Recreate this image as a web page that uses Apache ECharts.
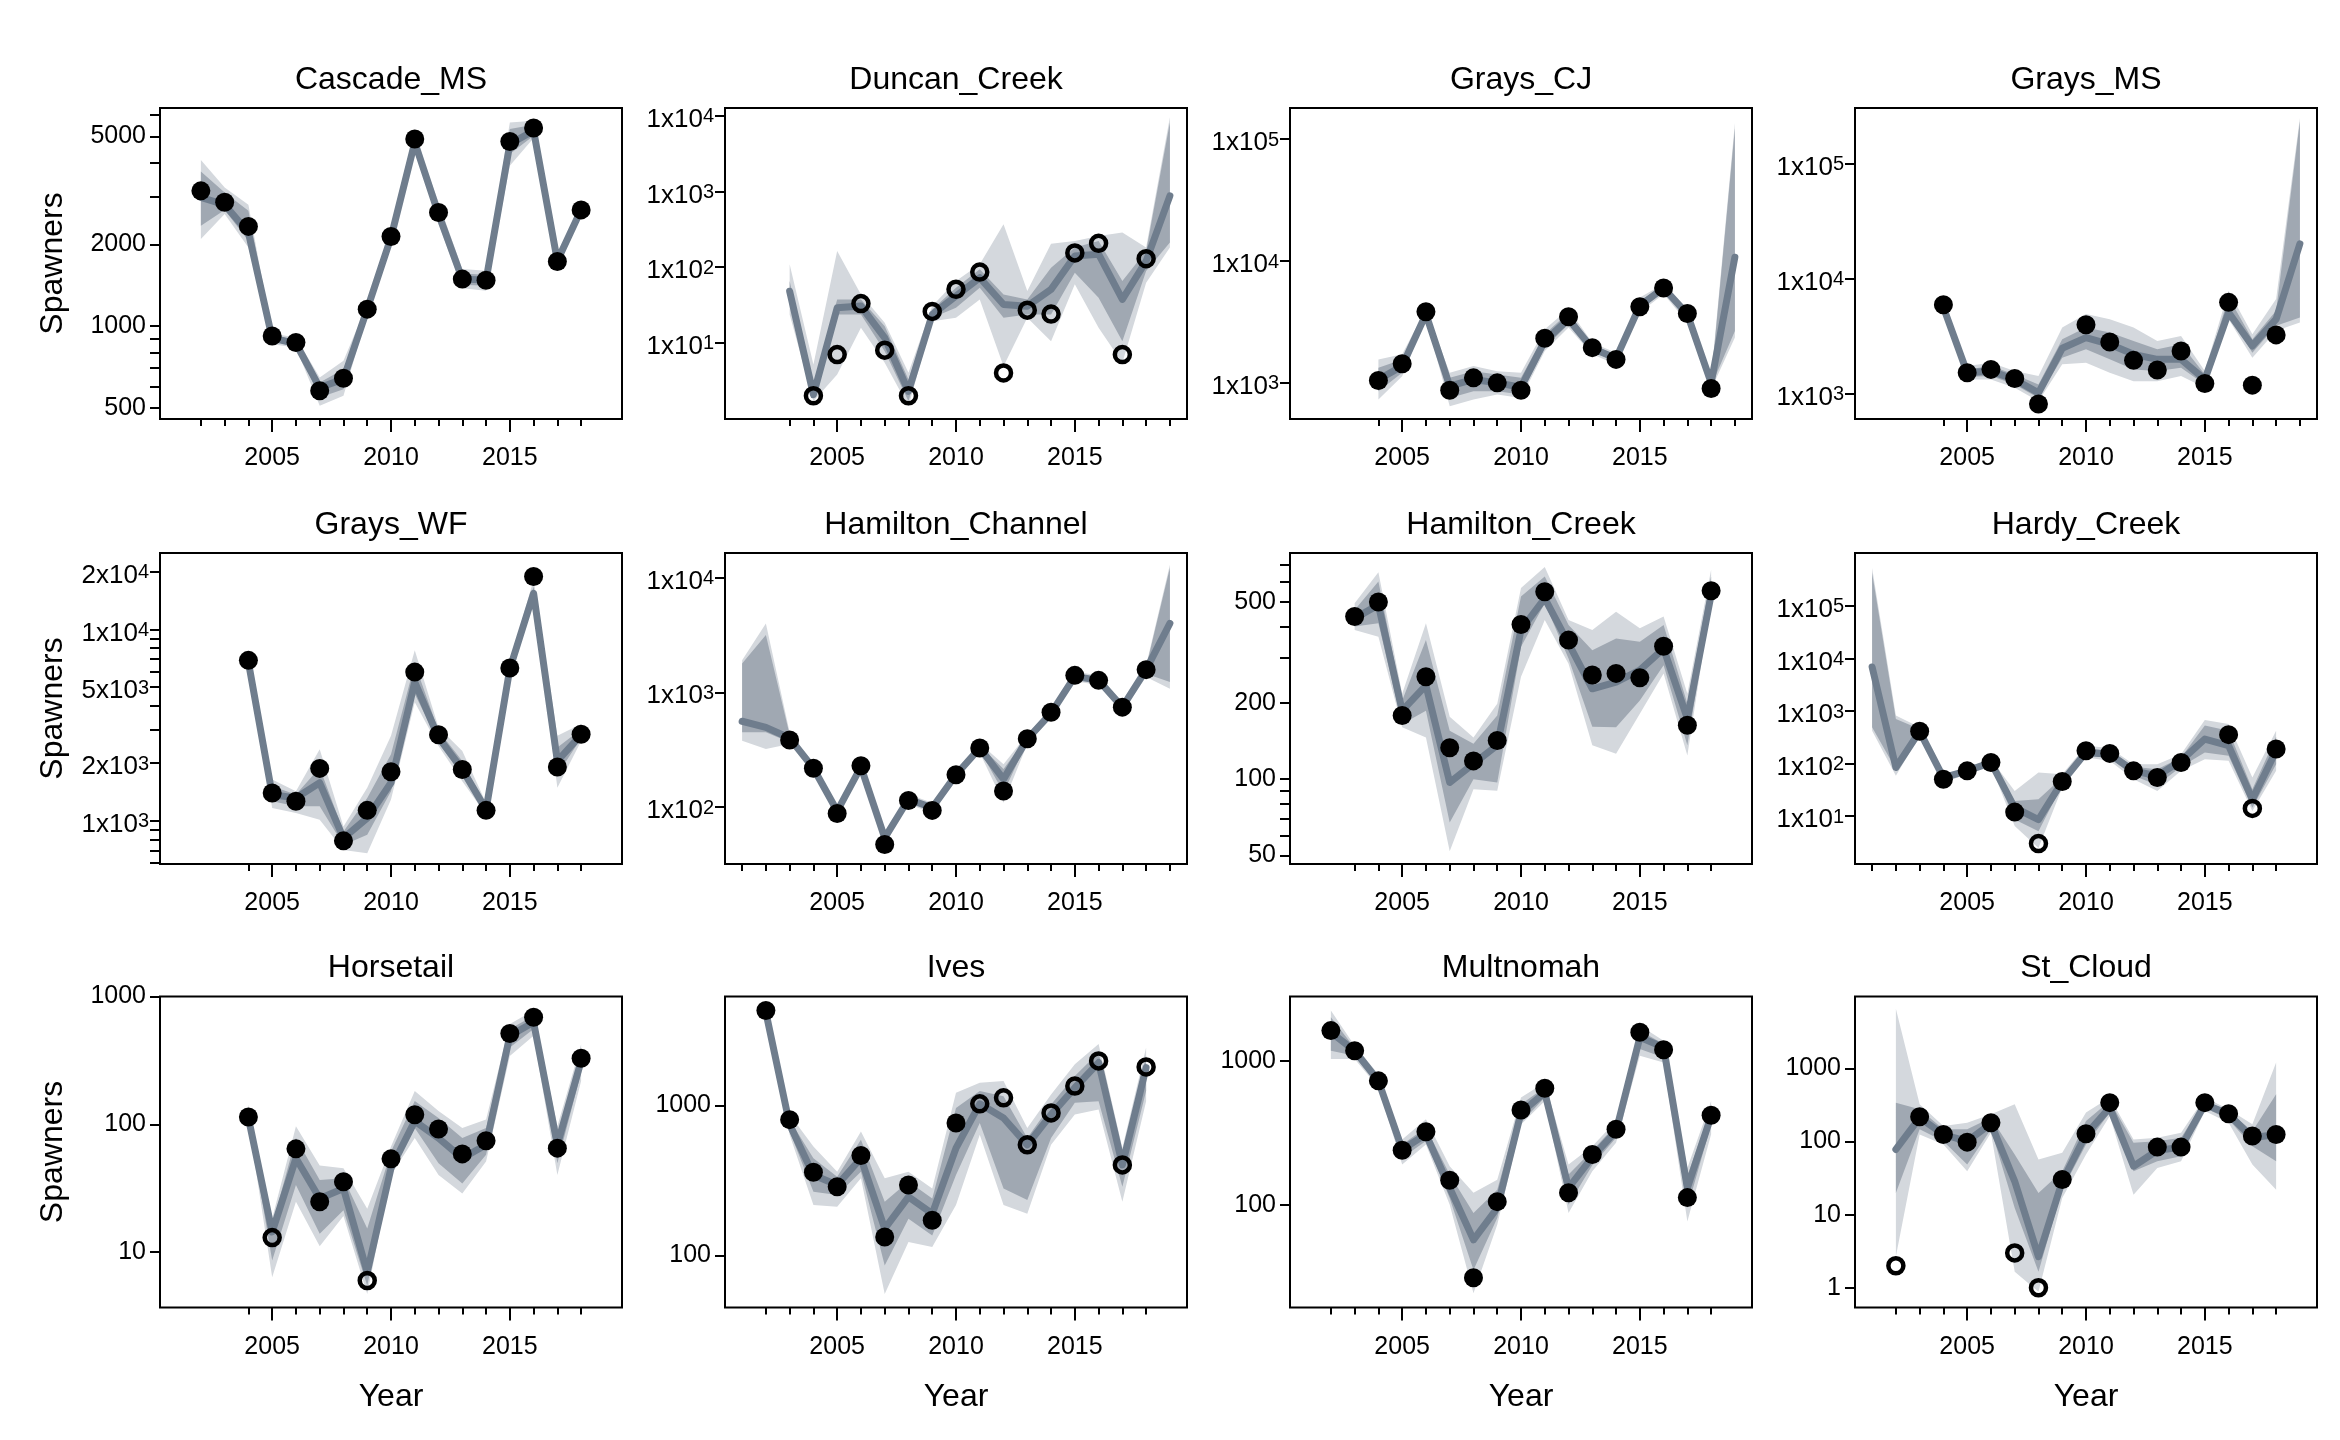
<!DOCTYPE html>
<html>
<head>
<meta charset="utf-8">
<script src="https://cdn.jsdelivr.net/npm/echarts@6/dist/echarts.min.js"></script>
<style>html,body{margin:0;padding:0;background:#fff}#c{width:2340px;height:1440px}</style>
</head>
<body>
<div id="c"></div>
<script>
// ---------------- DATA ----------------
const panelNames = ['Cascade_MS','Duncan_Creek','Grays_CJ','Grays_MS','Grays_WF','Hamilton_Channel','Hamilton_Creek','Hardy_Creek','Horsetail','Ives','Multnomah','St_Cloud'];
const xMajorTicks = [2005, 2010, 2015];

// Cascade_MS
const cas_years = [2002,2003,2004,2005,2006,2007,2008,2009,2010,2011,2012,2013,2014,2015,2016,2017,2018];
const cas_med  = [2980,2800,2214,903,863,594,638,1155,2122,4752,2587,1490,1478,4685,5247,1741,2684];
const cas_lo95 = [2092,2587,1950,858,834,509,554,1107,2034,4555,2376,1380,1350,3898,4931,1669,2602];
const cas_lo50 = [2343,2676,2063,878,846,546,586,1132,2075,4646,2479,1420,1408,4304,5029,1707,2639];
const cas_hi50 = [3715,3109,2661,929,888,620,694,1178,2170,4889,2737,1564,1546,5321,5521,1771,2730];
const cas_hi95 = [4090,3243,2800,940,908,647,745,1205,2214,4987,2857,1622,1599,5630,5711,1801,2768];
const cas_obsYears = [2002,2003,2004,2005,2006,2007,2008,2009,2010,2011,2012,2013,2014,2015,2016,2017,2018];
const cas_obs  = [3150,2860,2330,920,870,578,643,1155,2140,4890,2620,1490,1475,4790,5370,1730,2680];
const cas_open = [0,0,0,0,0,0,0,0,0,0,0,0,0,0,0,0,0];
const cas_yRange = [455, 6360];
const cas_yLabels = [500,1000,2000,5000];
const cas_yTicks = [500,600,700,800,900,1000,2000,3000,4000,5000,6000];

// Duncan_Creek
const dun_years = [2003,2004,2005,2006,2007,2008,2009,2010,2011,2012,2013,2014,2015,2016,2017,2018,2019];
const dun_med  = [48,2.07,29,30.6,11.6,2.29,23.7,41.5,72.4,32.1,30.5,50.8,140,148,37.4,120,873];
const dun_lo95 = [23.7,1.69,3.81,15.8,5.44,1.45,19.3,21.4,37.4,4.91,21.4,10.5,59.2,15.8,5.44,62.2,181];
const dun_lo50 = [32.2,1.87,23.7,23.7,7.76,1.69,21.4,29.1,53.4,21.4,23.7,23.7,84.4,39.4,10.5,88.8,211];
const dun_hi50 = [65.5,2.81,37.4,37.4,16.6,3.27,27.6,53.4,93.4,43.6,37.4,98.3,181,221,65.5,163,8150];
const dun_hi95 = [109,5.17,163,43.6,18.4,4.01,30.6,65.5,109,368,48.3,204,221,258,286,181,9495];
const dun_obsYears = [2004,2005,2006,2007,2008,2009,2010,2011,2012,2013,2014,2015,2016,2017,2018];
const dun_obs  = [2,7,33,8,2,26,51,86,4,27,24,154,206,7,129];
const dun_open = [1,1,1,1,1,1,1,1,1,1,1,1,1,1,1];
const dun_yRange = [0.986, 12620];
const dun_yLabels = [10,100,1000,10000];
const dun_yTicks = [10,100,1000,10000];

// Grays_CJ
const gcj_years = [2004,2005,2006,2007,2008,2009,2010,2011,2012,2013,2014,2015,2016,2017,2018,2019];
const gcj_med  = [1066,1373,3664,939,1066,1000,921,2208,3332,1920,1588,4292,6004,3664,1000,10750];
const gcj_lo95 = [729,1135,3440,642,729,801,752,1825,2844,1713,1417,3782,5358,3128,881,2352];
const gcj_lo50 = [854,1209,3550,752,854,854,801,1945,3030,1802,1491,4030,5637,3332,939,2669];
const gcj_hi50 = [1330,1558,3904,1100,1248,1172,1100,2505,3782,2046,1692,4721,6277,3855,1045,123200];
const gcj_hi95 = [1558,1713,4030,1209,1373,1248,1209,2755,4030,2138,1768,5029,6479,4030,1100,135600];
const gcj_obsYears = [2004,2005,2006,2007,2008,2009,2010,2011,2012,2013,2014,2015,2016,2017,2018];
const gcj_obs  = [1046,1435,3829,870,1099,1000,870,2323,3484,1945,1558,4212,6004,3711,898];
const gcj_open = [0,0,0,0,0,0,0,0,0,0,0,0,0,0,0];
const gcj_yRange = [505, 180300];
const gcj_yLabels = [1000,10000,100000];
const gcj_yTicks = [1000,10000,100000];

// Grays_MS
const gms_years = [2004,2005,2006,2007,2008,2009,2010,2011,2012,2013,2014,2015,2016,2017,2018,2019];
const gms_med  = [5628,1517,1569,1326,1013,2478,3073,2687,2196,1985,1985,1326,5088,2598,4446,20180];
const gms_lo95 = [5262,1326,1326,1121,857,1795,1856,1517,1282,1282,1418,1121,4448,2053,3516,4159];
const gms_lo50 = [5442,1390,1418,1199,916,2053,2429,1985,1623,1569,1678,1199,4920,2271,3889,4600];
const gms_hi50 = [6100,1623,1735,1467,1199,2972,3761,3399,2873,2429,2687,1467,6887,2972,5262,234800];
const gms_hi95 = [6437,1735,1856,1569,1418,3761,4920,4448,3761,2873,3178,1569,7878,3287,6658,251200];
const gms_obsYears = [2004,2005,2006,2007,2008,2010,2011,2012,2013,2014,2015,2016,2017,2018];
const gms_obs  = [5938,1517,1623,1353,812,3968,2815,1945,1601,2349,1223,6226,1183,3243];
const gms_open = [0,0,0,0,0,0,0,0,0,0,0,0,0,0];
const gms_yRange = [600, 307300];
const gms_yLabels = [1000,10000,100000];
const gms_yTicks = [1000,10000,100000];

// Grays_WF
const gwf_years = [2004,2005,2006,2007,2008,2009,2010,2011,2012,2013,2014,2015,2016,2017,2018];
const gwf_med  = [6757,1370,1316,1579,811,1033,1579,5304,2724,1855,1143,6232,15470,2053,2813];
const gwf_lo95 = [6623,1166,1097,1012,704,676,1290,4163,2461,1611,1075,5748,13700,1486,2615];
const gwf_lo50 = [6676,1264,1190,1190,747,844,1427,4604,2563,1711,1097,5987,14560,1746,2702];
const gwf_hi50 = [6896,1516,1370,1893,879,1316,2225,6623,2953,2053,1190,6491,16770,2412,3012];
const gwf_hi95 = [7037,1643,1427,2364,934,1486,2779,7784,3074,2317,1239,6757,18180,2779,3201];
const gwf_obsYears = [2004,2005,2006,2007,2008,2009,2010,2011,2012,2013,2014,2015,2016,2017,2018];
const gwf_obs  = [6896,1398,1264,1878,785,1133,1804,5987,2813,1855,1133,6284,18930,1909,2836];
const gwf_open = [0,0,0,0,0,0,0,0,0,0,0,0,0,0,0];
const gwf_yRange = [594, 25120];
const gwf_yLabels = [1000,2000,5000,10000,20000];
const gwf_yTicks = [600,700,800,900,1000,2000,3000,4000,5000,6000,7000,8000,9000,10000,20000];

// Hamilton_Channel
const hch_years = [2001,2002,2003,2004,2005,2006,2007,2008,2009,2010,2011,2012,2013,2014,2015,2016,2017,2018,2019];
const hch_med  = [559,495,399,218,92.3,224,53.9,117,98.7,191,327,175,391,657,1376,1270,742,1574,3981];
const hch_lo95 = [378,320,354,198,83,203,48,106,89,173,297,109,355,597,1250,1155,674,1357,1073];
const hch_lo50 = [448,448,366,208,88,213,51,111,94,182,312,134,373,627,1312,1210,708,1452,1227];
const hch_hi50 = [1777,3147,427,229,97,235,57,123,104,200,343,214,410,690,1444,1333,779,1661,12070];
const hch_hi95 = [1900,3981,448,240,102,247,60,129,109,210,360,236,430,723,1514,1397,816,1718,12910];
const hch_obsYears = [2003,2004,2005,2006,2007,2008,2009,2010,2011,2012,2013,2014,2015,2016,2017,2018];
const hch_obs  = [384,218,88,229,47.1,114,93.5,191,327,138,394,670,1404,1270,742,1574];
const hch_open = [0,0,0,0,0,0,0,0,0,0,0,0,0,0,0,0];
const hch_yRange = [31.9, 16340];
const hch_yLabels = [100,1000,10000];
const hch_yTicks = [100,1000,10000];

// Hamilton_Creek
const hcr_years = [2003,2004,2005,2006,2007,2008,2009,2010,2011,2012,2013,2014,2015,2016,2017,2018];
const hcr_med  = [430,486,186,234,97,115,136,387,516,343,227,241,269,327,173,532];
const hcr_lo95 = [387,364,160,146,52,91.3,89.9,253,424,285,136,126,181,261,124,508];
const hcr_lo50 = [399,411,165,186,67.4,100,97,332,493,299,161,160,204,281,136,516];
const hcr_hi50 = [464,601,204,353,155,138,178,524,629,405,322,358,348,405,198,629];
const hcr_hi95 = [493,653,217,411,176,146,198,566,685,424,387,457,393,437,217,669];
const hcr_obsYears = [2003,2004,2005,2006,2007,2008,2009,2010,2011,2012,2013,2014,2015,2016,2017,2018];
const hcr_obs  = [437,499,178,253,133,118,142,407,547,353,257,261,251,334,163,552];
const hcr_open = [0,0,0,0,0,0,0,0,0,0,0,0,0,0,0,0];
const hcr_yRange = [46.3, 778];
const hcr_yLabels = [50,100,200,500];
const hcr_yTicks = [50,60,70,80,90,100,200,300,400,500,600,700];

// Hardy_Creek
const hdy_years = [2001,2002,2003,2004,2005,2006,2007,2008,2009,2010,2011,2012,2013,2014,2015,2016,2017,2018];
const hdy_med  = [6900,84,411,54,72.6,105,14.4,8.6,45.4,163,151,72.6,58.3,113,293,219,20.8,175];
const hdy_lo95 = [423,58.3,340,43.4,62.7,90.5,6.44,2.48,34.9,131,113,50.3,30.1,72.6,121,113,12.5,72.6];
const hdy_lo50 = [490,78.2,366,46.8,66.5,97.4,8.63,5.16,39.2,141,127,58.3,39.2,86.7,163,141,14.4,97.4];
const hdy_hi50 = [422000,708,456,58.3,78.2,113,19.4,20.8,54.2,197,175,86.7,78.2,131,528,423,32.4,325];
const hdy_hi95 = [526000,820,490,62.7,84.1,121,30.1,67.5,62.7,219,197,97.4,97.4,151,678,568,54.2,423];
const hdy_obsYears = [2003,2004,2005,2006,2007,2008,2009,2010,2011,2012,2013,2014,2016,2017,2018];
const hdy_obs  = [411,50.3,72.6,105,11.9,3,45.4,175,156,72.6,54.2,105,355,14,189];
const hdy_open = [0,0,0,0,0,1,0,0,0,0,0,0,0,1,0];
const hdy_yRange = [1.224, 1018000];
const hdy_yLabels = [10,100,1000,10000,100000];
const hdy_yTicks = [10,100,1000,10000,100000];

// Horsetail
const hor_years = [2004,2005,2006,2007,2008,2009,2010,2011,2012,2013,2014,2015,2016,2017,2018];
const hor_med  = [112,14.4,54.3,26.3,31.5,6.96,45.3,106,78.1,54.3,69.2,493,628,69.2,313];
const hor_lo95 = [106,6.36,24.8,11.1,19.2,4.70,40.2,78.1,40.2,28.8,51.1,343,493,40.2,218];
const hor_lo50 = [109,8.60,33.5,13.9,21.3,5.46,42.6,93.6,49.6,34.5,57.7,399,556,49.6,254];
const hor_hi50 = [127,16.2,78.1,36.7,37.8,15.3,61.3,152,112,78.1,93.6,556,708,82.9,365];
const hor_hi95 = [143,18.3,96.4,47.6,45.3,21.9,67.1,182,127,93.6,109,609,776,96.4,424];
const hor_obsYears = [2004,2005,2006,2007,2008,2009,2010,2011,2012,2013,2014,2015,2016,2017,2018];
const hor_obs  = [114,13,64.3,24.8,35.6,6,53.7,119,91.9,58.7,74.3,514,688,65.1,329];
const hor_open = [0,1,0,0,0,1,0,0,0,0,0,0,0,0,0];
const hor_yRange = [3.69, 1000];
const hor_yLabels = [10,100,1000];
const hor_yTicks = [10,100,1000];

// Ives
const ive_years = [2002,2003,2004,2005,2006,2007,2008,2009,2010,2011,2012,2013,2014,2015,2016,2017,2018];
const ive_med  = [4187,746,344,295,445,151,246,190,520,1026,826,547,870,1314,1934,402,1789];
const ive_lo95 = [3978,639,217,211,327,55.3,123,114,217,639,217,190,547,870,940,228,1069];
const ive_lo50 = [4081,672,266,253,362,85.7,176,136,344,765,280,234,607,1042,1069,287,1248];
const ive_hi50 = [4297,805,445,335,591,228,311,240,964,1248,1155,607,1016,1574,2256,469,2144];
const ive_hi95 = [4409,870,533,362,672,327,362,280,1216,1420,1456,708,1185,1885,2567,520,2438];
const ive_obsYears = [2002,2003,2004,2005,2006,2007,2008,2009,2010,2011,2012,2013,2014,2015,2016,2017,2018];
const ive_obs  = [4297,805,359,287,464,133,295,172,765,1026,1126,547,893,1348,1984,402,1808];
const ive_open = [0,0,0,0,0,0,0,0,0,1,1,1,1,1,1,1,1];
const ive_yRange = [45, 5333];
const ive_yLabels = [100,1000];
const ive_yTicks = [100,1000];

// Multnomah
const mul_years = [2002,2003,2004,2005,2006,2007,2008,2009,2010,2011,2012,2013,2014,2015,2016,2017,2018];
const mul_med  = [1576,1174,725,242,308,131,57.0,94.8,436,601,131,214,325,1455,1239,131,413];
const mul_lo95 = [1027,1027,652,190,262,100,24.2,72.5,360,526,87.5,171,269,1084,974,76.5,308];
const mul_lo50 = [1174,1084,687,212,277,111,35.2,80.7,371,555,100,188,292,1206,1055,94.8,361];
const mul_hi50 = [2006,1226,765,262,343,162,87.5,127,498,652,162,238,358,1620,1307,158,472];
const mul_hi95 = [2233,1273,807,284,392,185,121,149,555,706,190,255,381,1755,1378,180,526];
const mul_obsYears = [2002,2003,2004,2005,2006,2007,2008,2009,2010,2011,2012,2013,2014,2015,2016,2017,2018];
const mul_obs  = [1620,1174,725,239,321,148,31.1,105,455,645,121,223,334,1576,1193,112,418];
const mul_open = [0,0,0,0,0,0,0,0,0,0,0,0,0,0,0,0,0];
const mul_yRange = [19.3, 2796];
const mul_yLabels = [100,1000];
const mul_yTicks = [100,1000];

// St_Cloud
const stc_years = [2002,2003,2004,2005,2006,2007,2008,2009,2010,2011,2012,2013,2014,2015,2016,2017,2018];
const stc_med  = [78,212,125,101,176,28.6,2.67,28.6,125,291,46,75.5,84,324,236,113,125];
const stc_lo95 = [2.67,125,91.3,39.3,132,1.66,0.881,16.9,66.6,224,18.8,43.6,53.9,262,181,48.5,22.0];
const stc_lo50 = [19.8,147,101,48.5,147,12.3,1.66,22.0,91.3,249,39.3,53.9,63.1,291,201,86.6,53.9];
const stc_hi50 = [341,276,147,147,212,66.6,19.8,39.3,191,360,96.3,101,113,368,262,139,444];
const stc_hi95 = [6543,324,163,181,236,324,56.8,70.2,249,400,107,113,132,400,276,172,1210];
const stc_obsYears = [2002,2003,2004,2005,2006,2007,2008,2009,2010,2011,2013,2014,2015,2016,2017,2018];
const stc_obs  = [2,219,125,98.3,181,3,1,30.2,128,341,84,84,341,241,119,125];
const stc_open = [1,0,0,0,0,1,1,0,0,0,0,0,0,0,0,0];
const stc_yRange = [0.537, 9660];
const stc_yLabels = [1,10,100,1000];
const stc_yTicks = [1,10,100,1000];

// ---------------- BUILD ----------------
const panels = [
  {years:cas_years, med:cas_med, lo95:cas_lo95, lo50:cas_lo50, hi50:cas_hi50, hi95:cas_hi95, obsYears:cas_obsYears, obs:cas_obs, open:cas_open, yRange:cas_yRange, yLabels:cas_yLabels, yTicks:cas_yTicks, sci:false},
  {years:dun_years, med:dun_med, lo95:dun_lo95, lo50:dun_lo50, hi50:dun_hi50, hi95:dun_hi95, obsYears:dun_obsYears, obs:dun_obs, open:dun_open, yRange:dun_yRange, yLabels:dun_yLabels, yTicks:dun_yTicks, sci:true},
  {years:gcj_years, med:gcj_med, lo95:gcj_lo95, lo50:gcj_lo50, hi50:gcj_hi50, hi95:gcj_hi95, obsYears:gcj_obsYears, obs:gcj_obs, open:gcj_open, yRange:gcj_yRange, yLabels:gcj_yLabels, yTicks:gcj_yTicks, sci:true},
  {years:gms_years, med:gms_med, lo95:gms_lo95, lo50:gms_lo50, hi50:gms_hi50, hi95:gms_hi95, obsYears:gms_obsYears, obs:gms_obs, open:gms_open, yRange:gms_yRange, yLabels:gms_yLabels, yTicks:gms_yTicks, sci:true},
  {years:gwf_years, med:gwf_med, lo95:gwf_lo95, lo50:gwf_lo50, hi50:gwf_hi50, hi95:gwf_hi95, obsYears:gwf_obsYears, obs:gwf_obs, open:gwf_open, yRange:gwf_yRange, yLabels:gwf_yLabels, yTicks:gwf_yTicks, sci:true},
  {years:hch_years, med:hch_med, lo95:hch_lo95, lo50:hch_lo50, hi50:hch_hi50, hi95:hch_hi95, obsYears:hch_obsYears, obs:hch_obs, open:hch_open, yRange:hch_yRange, yLabels:hch_yLabels, yTicks:hch_yTicks, sci:true},
  {years:hcr_years, med:hcr_med, lo95:hcr_lo95, lo50:hcr_lo50, hi50:hcr_hi50, hi95:hcr_hi95, obsYears:hcr_obsYears, obs:hcr_obs, open:hcr_open, yRange:hcr_yRange, yLabels:hcr_yLabels, yTicks:hcr_yTicks, sci:false},
  {years:hdy_years, med:hdy_med, lo95:hdy_lo95, lo50:hdy_lo50, hi50:hdy_hi50, hi95:hdy_hi95, obsYears:hdy_obsYears, obs:hdy_obs, open:hdy_open, yRange:hdy_yRange, yLabels:hdy_yLabels, yTicks:hdy_yTicks, sci:true},
  {years:hor_years, med:hor_med, lo95:hor_lo95, lo50:hor_lo50, hi50:hor_hi50, hi95:hor_hi95, obsYears:hor_obsYears, obs:hor_obs, open:hor_open, yRange:hor_yRange, yLabels:hor_yLabels, yTicks:hor_yTicks, sci:false},
  {years:ive_years, med:ive_med, lo95:ive_lo95, lo50:ive_lo50, hi50:ive_hi50, hi95:ive_hi95, obsYears:ive_obsYears, obs:ive_obs, open:ive_open, yRange:ive_yRange, yLabels:ive_yLabels, yTicks:ive_yTicks, sci:false},
  {years:mul_years, med:mul_med, lo95:mul_lo95, lo50:mul_lo50, hi50:mul_hi50, hi95:mul_hi95, obsYears:mul_obsYears, obs:mul_obs, open:mul_open, yRange:mul_yRange, yLabels:mul_yLabels, yTicks:mul_yTicks, sci:false},
  {years:stc_years, med:stc_med, lo95:stc_lo95, lo50:stc_lo50, hi50:stc_hi50, hi95:stc_hi95, obsYears:stc_obsYears, obs:stc_obs, open:stc_open, yRange:stc_yRange, yLabels:stc_yLabels, yTicks:stc_yTicks, sci:false}
];

const FONT = '"Liberation Sans", Arial, Helvetica, sans-serif';
const L = Math.log10;
const X_MIN = 2000.28, X_MAX = 2019.72;
const colLeft = [160, 725, 1290, 1855];
const rowTop = [108, 553, 996.5];
const GW = 462, GH = 311;
const C_LIGHT = '#d4d8dd', C_DARK = '#a0a8b2', C_LINE = '#6f7d8d';

function bandSeries(i, years, lo, hi, color, z) {
  return {
    type: 'custom', xAxisIndex: 2 * i, yAxisIndex: i, z: z, silent: true, clip: true,
    data: years.map((y, k) => [y, L(lo[k]), L(hi[k])]),
    encode: { x: 0, y: [1, 2] },
    renderItem: function (params, api) {
      if (params.dataIndexInside !== 0) return null;
      const n = params.dataInsideLength;
      const up = [], dn = [];
      for (let k = 0; k < n; k++) {
        up.push(api.coord([api.value(0, k), api.value(2, k)]));
        dn.push(api.coord([api.value(0, k), api.value(1, k)]));
      }
      return { type: 'polygon', shape: { points: up.concat(dn.reverse()) }, style: { fill: color } };
    }
  };
}

const grids = [], xAxes = [], yAxes = [], series = [], graphics = [];
panels.forEach((p, i) => {
  const col = i % 4, row = Math.floor(i / 4);
  const gl = colLeft[col], gt = rowTop[row];
  grids.push({ left: gl, top: gt, width: GW, height: GH, show: true, borderColor: '#000', borderWidth: 2, backgroundColor: '#fff' });
  const allYears = p.years.concat(p.obsYears);
  const y0 = Math.min.apply(null, allYears), y1 = Math.max.apply(null, allYears);
  const tickYears = [];
  for (let y = y0; y <= y1; y++) tickYears.push(y);
  xAxes.push({ gridIndex: i, type: 'value', position: 'bottom', min: X_MIN, max: X_MAX,
    axisLine: { show: false, onZero: false }, splitLine: { show: false }, axisLabel: { show: false },
    axisTick: { show: true, length: 7, customValues: tickYears, lineStyle: { color: '#000', width: 2 } } });
  xAxes.push({ gridIndex: i, type: 'value', position: 'bottom', min: X_MIN, max: X_MAX,
    axisLine: { show: false, onZero: false }, splitLine: { show: false },
    axisTick: { show: true, length: 13, customValues: xMajorTicks, lineStyle: { color: '#000', width: 2 } },
    axisLabel: { show: true, customValues: xMajorTicks, fontSize: 25, color: '#000', fontFamily: FONT, margin: 27,
      formatter: function (v) { return String(Math.round(v)); } } });
  yAxes.push({ gridIndex: i, type: 'value', position: 'left', min: L(p.yRange[0]), max: L(p.yRange[1]),
    axisLine: { show: false, onZero: false }, splitLine: { show: false },
    axisTick: { show: true, length: 10, customValues: p.yTicks.map(L), lineStyle: { color: '#000', width: 2 } },
    axisLabel: {
      show: true, customValues: p.yLabels.map(L), color: '#000', fontFamily: FONT, fontSize: 25,
      margin: p.sci ? 11 : 14,
      padding: p.sci ? [8, 0, 0, 0] : 0,
      formatter: p.sci
        ? function (v) { const e = Math.floor(v + 1e-9); const m = Math.round(Math.pow(10, v - e)); return '{b|' + m + 'x10}{s|' + e + '}'; }
        : function (v) { return String(Math.round(Math.pow(10, v))); },
      rich: {
        b: { fontSize: 26, lineHeight: 26, fontFamily: FONT, color: '#000', verticalAlign: 'bottom' },
        s: { fontSize: 20, lineHeight: 20, fontFamily: FONT, color: '#000', verticalAlign: 'top', padding: [0, 0, 13, 0] }
      }
    } });

  series.push(bandSeries(i, p.years, p.lo95, p.hi95, C_LIGHT, 1));
  series.push(bandSeries(i, p.years, p.lo50, p.hi50, C_DARK, 2));
  series.push({ type: 'line', xAxisIndex: 2 * i, yAxisIndex: i, z: 3, silent: true, symbol: 'none',
    data: p.years.map((y, k) => [y, L(p.med[k])]),
    lineStyle: { color: C_LINE, width: 7, cap: 'round', join: 'round' } });
  const filled = [], open = [];
  p.obsYears.forEach((y, k) => { (p.open[k] ? open : filled).push([y, L(p.obs[k])]); });
  series.push({ type: 'scatter', xAxisIndex: 2 * i, yAxisIndex: i, z: 5, silent: true, symbol: 'circle', symbolSize: 19,
    data: filled, itemStyle: { color: '#000', opacity: 1 } });
  series.push({ type: 'scatter', xAxisIndex: 2 * i, yAxisIndex: i, z: 5, silent: true, symbol: 'circle', symbolSize: 15,
    data: open, itemStyle: { color: 'rgba(0,0,0,0)', borderColor: '#000', borderWidth: 4.5, opacity: 1 } });

  graphics.push({ type: 'text', x: gl + GW / 2, y: gt - 28, silent: true,
    style: { text: panelNames[i], font: '32px ' + FONT, fill: '#000', textAlign: 'center', textVerticalAlign: 'middle' } });
  if (col === 0) {
    graphics.push({ type: 'text', x: 53, y: gt + GH / 2, rotation: Math.PI / 2, silent: true,
      style: { text: 'Spawners', font: '32px ' + FONT, fill: '#000', textAlign: 'center', textVerticalAlign: 'middle' } });
  }
  if (row === 2) {
    graphics.push({ type: 'text', x: gl + GW / 2, y: 1397, silent: true,
      style: { text: 'Year', font: '32px ' + FONT, fill: '#000', textAlign: 'center', textVerticalAlign: 'middle' } });
  }
});

const chart = echarts.init(document.getElementById('c'), null, { renderer: 'canvas', width: 2340, height: 1440 });
chart.setOption({
  backgroundColor: '#fff',
  animation: false,
  grid: grids,
  xAxis: xAxes,
  yAxis: yAxes,
  series: series,
  graphic: graphics
});
</script>
</body>
</html>
